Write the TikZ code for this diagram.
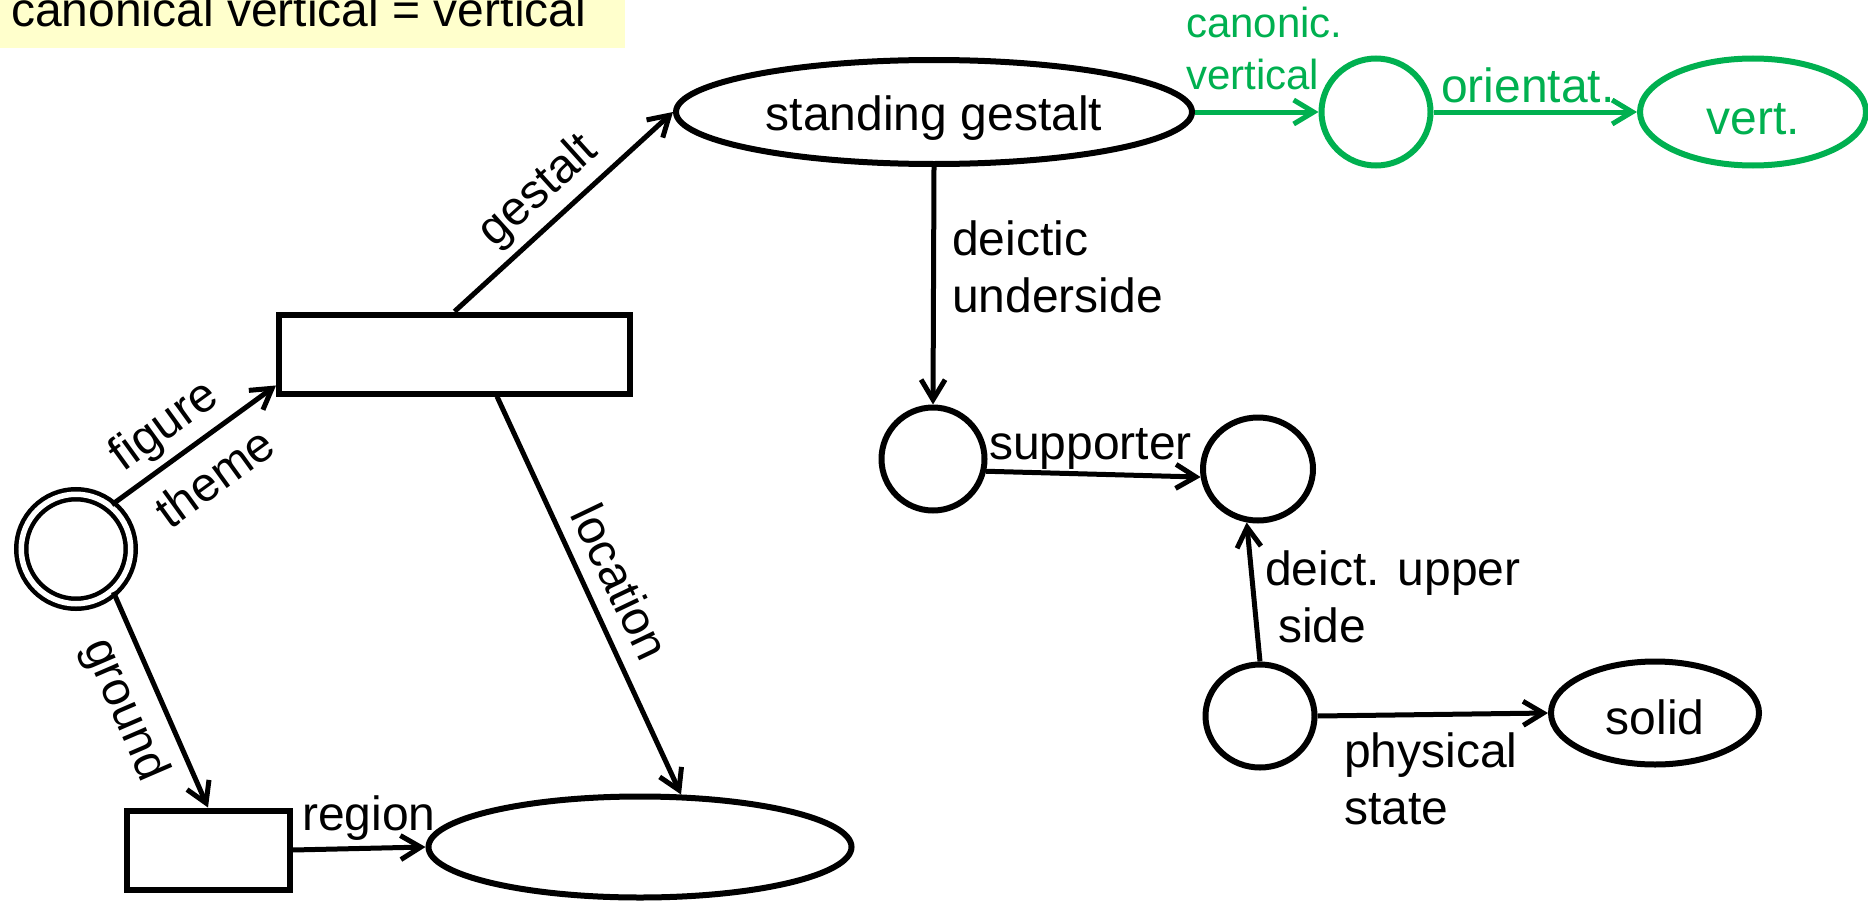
\documentclass[tikz,border=0pt]{standalone}
\usepackage{fontspec}
\setmainfont{Liberation Sans}
\usetikzlibrary{arrows.meta,shapes.geometric,calc}
\definecolor{pptgreen}{RGB}{0,176,80}
\definecolor{noteyellow}{RGB}{255,255,204}

\begin{document}
\begin{tikzpicture}[x=1pt,y=-1pt,
  font=\fontsize{48}{57}\selectfont,
  frame/.style={draw, line width=6pt, inner sep=0pt},
  oval/.style={frame, ellipse},
  box/.style={frame, rectangle},
  greenish/.style={draw=pptgreen, text=pptgreen},
  rel/.style={line width=5pt, -{Straight Barb[length=20pt,width=24pt,line join=miter]}},
  lbl/.style={inner sep=0pt},
  smalllbl/.style={inner sep=0pt, font=\fontsize{42}{52}\selectfont}]

\useasboundingbox (0,0) rectangle (1868,907);

% note in the upper left corner
\fill[noteyellow] (0,-30) rectangle (625,48);
\node[lbl, anchor=base west] (note) at (11,27) {canonical vertical = vertical};

% nodes
\node[circle, draw, line width=4.5pt, double, double distance=5.5pt, minimum size=109.5pt, inner sep=0pt] (fig) at (76,549) {};
\node[box, minimum width=351pt, minimum height=79pt] (r1) at (454.5,354) {};
\node[box, minimum width=163pt, minimum height=79pt] (r2) at (208,850) {};
\node[oval, minimum width=423pt, minimum height=101pt] (e1) at (640,847) {};
\node[oval, minimum width=516pt, minimum height=104pt, text height=47pt] (sg) at (934,112) {standing gestalt};
\node[oval, greenish, minimum width=109pt, minimum height=107pt] (g1) at (1376,112) {};
\node[oval, greenish, minimum width=226pt, minimum height=107pt, text height=44pt, text depth=0pt] (g2) at (1753,112) {vert.};
\node[oval, minimum width=103pt, minimum height=103pt] (c1) at (933,459) {};
\node[oval, minimum width=110pt, minimum height=103pt] (c2) at (1258,469) {};
\node[oval, minimum width=109pt, minimum height=103pt] (c3) at (1260,716) {};
\node[oval, minimum width=208pt, minimum height=103pt, text height=43pt, text depth=0pt] (so) at (1655,713) {solid};

% connectors
\draw[rel] (r1.north) -- (sg.west);
\draw[rel] (fig.51) -- (r1.190);
\draw[rel] (fig.-49) -- (r2.north);
\draw[rel] (r1.-45) -- (e1.52);
\draw[rel] (r2.east) -- (e1.west);
\draw[rel, pptgreen] (sg.east) -- (g1.west);
\draw[rel, pptgreen] (g1.east) -- (g2.west);
\draw[rel] (sg.south) -- (c1.north);
\draw[rel] (c1.-13) -- (c2.188);
\draw[rel] (c3.north) -- (c2.258);
\draw[rel] (c3.east) -- (so.west);

% connector labels
\node[lbl, rotate=42.1] (lgestalt) at (539,192) {gestalt};
\node[lbl, rotate=35.9] (lfigure) at (165,427) {figure};
\node[lbl, rotate=35.9] (ltheme) at (214,477) {theme};
\node[lbl, rotate=-66.7] (lground) at (124,710) {ground};
\node[lbl, rotate=-64.5] (llocation) at (621,582) {location};
\node[lbl, anchor=base west] (lregion) at (302,830) {region};
\node[smalllbl, text=pptgreen, align=left, anchor=west] (lcanon) at (1186,48.5) {canonic.\\vertical};
\node[lbl, text=pptgreen, anchor=base west] (lorient) at (1441,102) {orientat.};
\node[lbl, align=left, anchor=west] (ldeictic) at (952,267) {deictic\\underside};
\node[lbl, anchor=base west] (lsupporter) at (989,459) {supporter};
\node[lbl, align=left, anchor=west] (lupper) at (1265,596.5) {deict. upper\\\hspace*{13pt}side};
\node[lbl, align=left, anchor=west] (lphys) at (1344,779) {physical\\state};

\end{tikzpicture}
\end{document}
